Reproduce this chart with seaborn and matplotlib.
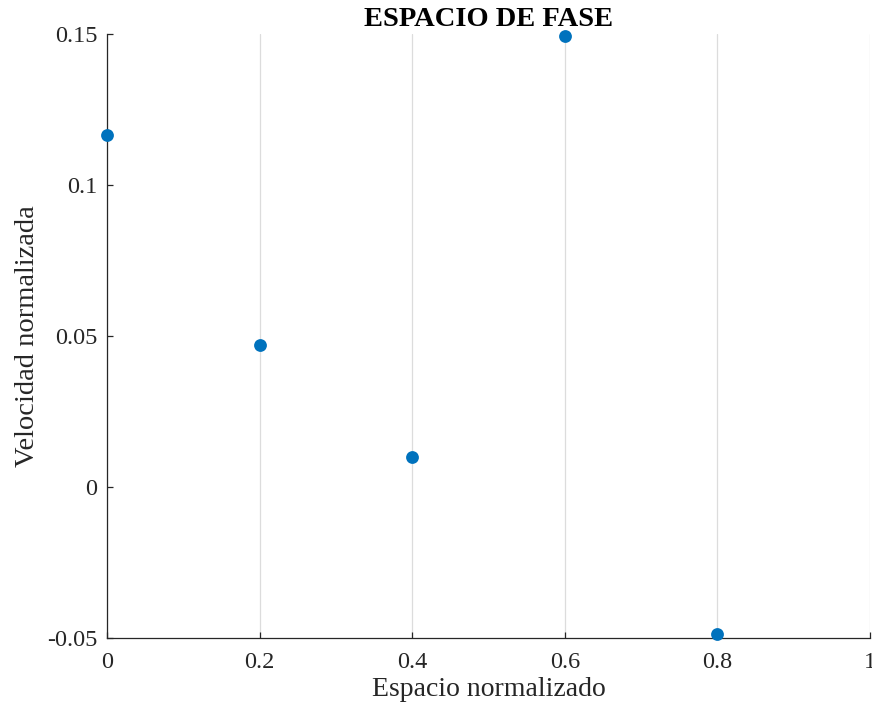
import matplotlib
matplotlib.use("Agg")
import matplotlib.pyplot as plt
import seaborn as sns
import pandas as pd

# Phase-space samples (normalized position vs. normalized velocity)
espacio = [0.0, 0.2, 0.4, 0.6, 0.8]
velocidad = [0.1166, 0.0471, 0.0100, 0.1494, -0.0487]

x_ticks = [0, 0.2, 0.4, 0.6, 0.8, 1]
x_tick_labels = ["0", "0.2", "0.4", "0.6", "0.8", "1"]
y_ticks = [-0.05, 0, 0.05, 0.1, 0.15]
y_tick_labels = ["-0.05", "0", "0.05", "0.1", "0.15"]

df = pd.DataFrame({"espacio": espacio, "velocidad": velocidad})

sns.set_theme(style="white")
plt.rcParams["font.family"] = ["Liberation Serif", "DejaVu Serif"]
plt.rcParams["mathtext.fontset"] = "stix"

fig = plt.figure(figsize=(8.72, 7.13), dpi=100)
ax = fig.add_axes([107 / 872, 1 - 638 / 713, (870 - 107) / 872, (638 - 34) / 713])

sns.scatterplot(data=df, x="espacio", y="velocidad", ax=ax,
                color="#0072BD", s=85, linewidth=0, zorder=3, clip_on=False)

ax.set_xlim(0, 1)
ax.set_ylim(-0.05, 0.15)
ax.set_xticks(x_ticks)
ax.set_xticklabels(x_tick_labels)
ax.set_yticks(y_ticks)
ax.set_yticklabels(y_tick_labels)

ax.xaxis.grid(True, color="#dcdcdc", linewidth=0.9)
ax.yaxis.grid(False)
ax.set_axisbelow(True)

for side in ("top", "right"):
    ax.spines[side].set_visible(False)
for side in ("left", "bottom"):
    ax.spines[side].set_color("#262626")
    ax.spines[side].set_linewidth(0.9)

ax.tick_params(axis="both", direction="in", length=4.5, width=0.9,
               color="#262626", labelcolor="#262626", labelsize=17.5,
               left=True, bottom=True)
ax.tick_params(axis="y", pad=7)
ax.tick_params(axis="x", pad=10)

ax.set_xlabel("Espacio normalizado", fontsize=20, color="#262626", labelpad=3)
ax.set_ylabel("Velocidad normalizada", fontsize=20.5, color="#262626", labelpad=5)
ax.set_title("ESPACIO DE FASE", fontsize=20.5, fontweight="bold", color="black", pad=6)

fig.savefig("out.png", dpi=100)
